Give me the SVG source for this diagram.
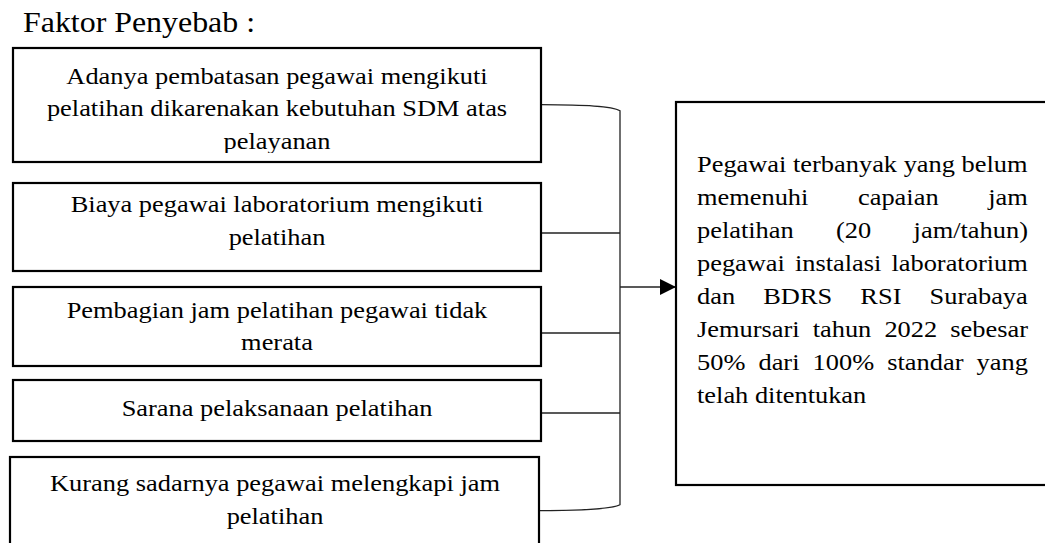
<svg xmlns="http://www.w3.org/2000/svg" width="1045" height="543" viewBox="0 0 1045 543">
<style>
.box{fill:#fff;stroke:#000;stroke-width:2.2}
.con{fill:none;stroke:#222;stroke-width:1.3}
</style>
<defs>
<marker id="arr" viewBox="0 0 16 16" refX="16" refY="8" markerWidth="16" markerHeight="16" markerUnits="userSpaceOnUse" orient="auto">
<path d="M0,0 L16,8 L0,16 Z" fill="#000"/>
</marker>
<clipPath id="clip1"><rect x="13" y="48" width="528" height="105"/></clipPath>
</defs>
<rect width="1045" height="543" fill="#fff"/>
<g font-family="'Liberation Serif', 'Times New Roman', Times, 'DejaVu Serif', serif" font-size="24" fill="#000">
<g id="title">
<text font-size="29" transform="translate(23,32) scale(1.1,1)">Faktor Penyebab :</text>
</g>
<g id="connectors">
<path class="con" d="M541,104.7 C585,105 612,106 620,110.7 L620,504.7 C612,509 585,510.5 539,510.7"/>
<line class="con" x1="541" y1="233" x2="620" y2="233"/>
<line class="con" x1="541" y1="333" x2="620" y2="333"/>
<line class="con" x1="541" y1="413" x2="620" y2="413"/>
<line class="con" x1="620" y1="287" x2="676" y2="287" marker-end="url(#arr)"/>
</g>
<g id="node1">
<rect class="box" x="13" y="48" width="528" height="114"/>
<g clip-path="url(#clip1)" text-anchor="middle">
<text transform="translate(277,84) scale(1.1,1)">Adanya pembatasan pegawai mengikuti</text>
<text transform="translate(277,116) scale(1.1,1)">pelatihan dikarenakan kebutuhan SDM atas</text>
<text transform="translate(277,149) scale(1.1,1)">pelayanan</text>
</g>
</g>
<g id="node2" text-anchor="middle">
<rect class="box" x="13" y="183" width="528" height="88"/>
<text transform="translate(277,212) scale(1.1,1)">Biaya pegawai laboratorium mengikuti</text>
<text transform="translate(277,245) scale(1.1,1)">pelatihan</text>
</g>
<g id="node3" text-anchor="middle">
<rect class="box" x="13" y="287" width="528" height="79"/>
<text transform="translate(277,318) scale(1.1,1)">Pembagian jam pelatihan pegawai tidak</text>
<text transform="translate(277,350) scale(1.1,1)">merata</text>
</g>
<g id="node4" text-anchor="middle">
<rect class="box" x="13" y="380" width="528" height="61"/>
<text transform="translate(277,416) scale(1.1,1)">Sarana pelaksanaan pelatihan</text>
</g>
<g id="node5" text-anchor="middle">
<rect class="box" x="10" y="457" width="529" height="110"/>
<text transform="translate(275,491) scale(1.1,1)">Kurang sadarnya pegawai melengkapi jam</text>
<text transform="translate(275,524) scale(1.1,1)">pelatihan</text>
</g>
<g id="result">
<rect class="box" x="676" y="102" width="380" height="383"/>
<text transform="translate(697,172) scale(1.1,1)">Pegawai terbanyak yang belum</text>
<text transform="translate(697,205) scale(1.1,1)" word-spacing="39.1">memenuhi capaian jam</text>
<text transform="translate(697,238) scale(1.1,1)" word-spacing="32.5">pelatihan (20 jam/tahun)</text>
<text transform="translate(697,271) scale(1.1,1)" word-spacing="3.1">pegawai instalasi laboratorium</text>
<text transform="translate(697,304) scale(1.1,1)" word-spacing="19.6">dan BDRS RSI Surabaya</text>
<text transform="translate(697,337) scale(1.1,1)" word-spacing="5.9">Jemursari tahun 2022 sebesar</text>
<text transform="translate(697,370) scale(1.1,1)" word-spacing="5.9">50% dari 100% standar yang</text>
<text transform="translate(697,403) scale(1.1,1)">telah ditentukan</text>
</g>
</g>
</svg>
